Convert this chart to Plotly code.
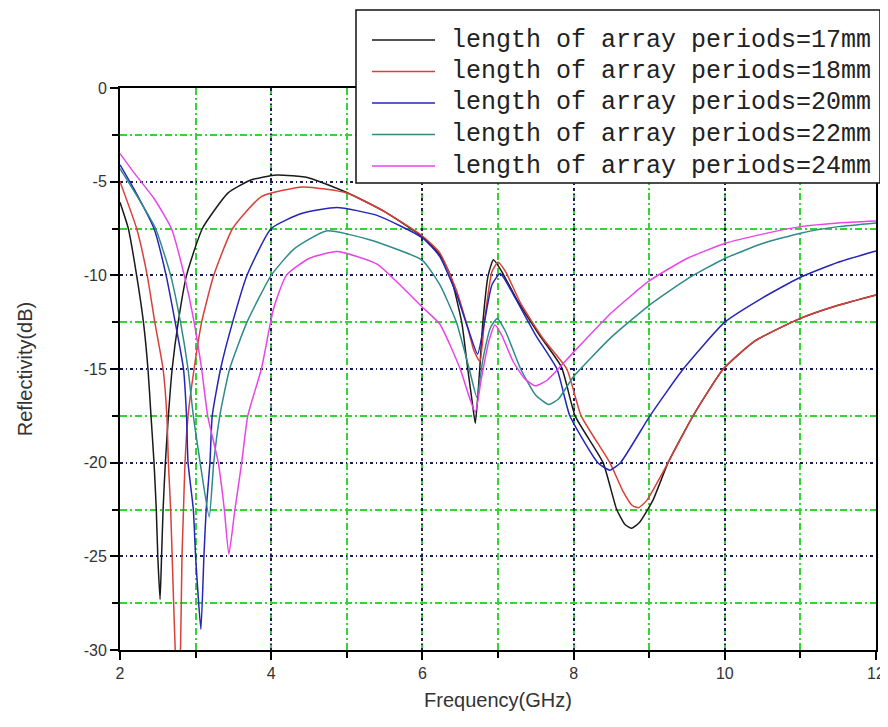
import plotly.graph_objects as go

# ---------------- data ----------------
series_names = [
    "length of array periods=17mm",
    "length of array periods=18mm",
    "length of array periods=20mm",
    "length of array periods=22mm",
    "length of array periods=24mm",
]

f_17 = [2.0, 2.11, 2.22, 2.31, 2.37, 2.41, 2.45, 2.48, 2.50, 2.53, 2.55, 2.57, 2.60, 2.64, 2.69, 2.77, 2.88,
        3.09, 3.43, 3.74, 4.07, 4.5, 5.0, 5.5, 6.0, 6.23, 6.37, 6.52, 6.60, 6.66, 6.70, 6.75, 6.80, 6.87, 6.94,
        7.05, 7.25, 7.55, 7.84, 8.02, 8.39, 8.57, 8.68, 8.77, 8.87, 9.05, 9.25, 9.58, 9.98, 10.4, 11.0, 11.5, 12.0]
r_17 = [-6.1, -7.5, -10.0, -12.5, -15.0, -17.5, -20.0, -22.5, -25.0, -27.3, -25.0, -22.5, -20.0, -17.5, -15.0, -12.5, -10.0,
        -7.5, -5.6, -4.9, -4.64, -4.8, -5.58, -6.6, -7.95, -8.9, -10.0, -12.5, -15.0, -16.8, -17.9, -15.5, -12.5, -10.0, -9.17,
        -9.8, -11.3, -13.2, -14.9, -17.5, -20.0, -22.5, -23.3, -23.5, -23.2, -22.0, -20.0, -17.5, -15.0, -13.5, -12.3, -11.6, -11.05]

f_18 = [2.0, 2.22, 2.36, 2.46, 2.57, 2.62, 2.64, 2.67, 2.69, 2.73, 2.765, 2.80, 2.82, 2.84, 2.86, 2.90, 2.98, 3.08,
        3.24, 3.49, 3.87, 4.42, 5.0, 5.5, 6.0, 6.23, 6.45, 6.60, 6.68, 6.76, 6.82, 6.92, 7.0, 7.1, 7.3, 7.6, 7.91, 8.1,
        8.48, 8.65, 8.78, 8.86, 8.97, 9.25, 9.58, 9.98, 10.4, 11.0, 11.5, 12.0]
r_18 = [-5.0, -7.5, -10.0, -12.5, -15.0, -17.5, -20.0, -22.5, -25.0, -30.0, -33.0, -30.0, -25.0, -22.5, -20.0, -17.5, -15.0, -12.5,
        -10.0, -7.5, -5.8, -5.28, -5.6, -6.6, -7.9, -8.8, -10.8, -12.8, -14.0, -14.6, -12.5, -9.8, -9.3, -9.8, -11.5, -13.4, -15.0, -17.5,
        -20.0, -21.5, -22.3, -22.4, -22.0, -20.0, -17.5, -15.0, -13.5, -12.3, -11.6, -11.05]

f_20 = [2.0, 2.2, 2.45, 2.61, 2.73, 2.84, 2.88, 2.90, 2.97, 3.00, 3.07, 3.11, 3.14, 3.19, 3.22, 3.33, 3.49, 3.68,
        4.0, 4.4, 4.87, 5.4, 6.0, 6.23, 6.45, 6.60, 6.73, 6.82, 6.92, 7.03, 7.2, 7.5, 7.78, 7.95, 8.32, 8.48, 8.62,
        9.01, 9.45, 10.0, 10.5, 11.0, 11.5, 12.0]
r_20 = [-4.1, -5.5, -7.5, -10.0, -12.5, -15.0, -17.5, -20.0, -22.5, -25.0, -28.9, -25.0, -22.5, -20.0, -17.5, -15.0, -12.5, -10.0,
        -7.5, -6.7, -6.38, -6.8, -8.0, -9.0, -11.0, -12.8, -14.2, -12.5, -10.5, -9.9, -11.0, -13.2, -15.0, -17.5, -20.0, -20.4, -20.0,
        -17.5, -15.0, -12.5, -11.2, -10.1, -9.3, -8.7]

f_22 = [2.0, 2.2, 2.47, 2.67, 2.80, 2.90, 2.97, 3.06, 3.18, 3.24, 3.32, 3.45, 3.68, 4.0, 4.3, 4.73, 5.3, 6.0, 6.23,
        6.45, 6.62, 6.72, 6.80, 6.90, 6.99, 7.1, 7.3, 7.5, 7.67, 7.8, 8.0, 8.5, 9.0, 9.5, 10.0, 10.5, 11.0, 11.5, 12.0]
r_22 = [-4.3, -5.6, -7.5, -10.0, -12.5, -15.0, -17.5, -20.0, -22.9, -20.0, -17.5, -15.0, -12.5, -10.0, -8.6, -7.63, -8.1, -9.2, -10.5,
        -12.5, -15.0, -16.5, -14.5, -12.8, -12.3, -13.0, -15.0, -16.4, -16.9, -16.6, -15.4, -13.3, -11.6, -10.2, -9.1, -8.3, -7.75, -7.4, -7.2]

f_24 = [2.0, 2.2, 2.45, 2.68, 2.85, 2.98, 3.08, 3.16, 3.30, 3.38, 3.44, 3.52, 3.61, 3.69, 3.87, 4.03, 4.2, 4.5, 4.87,
        5.4, 6.0, 6.23, 6.5, 6.62, 6.70, 6.78, 6.88, 6.96, 7.05, 7.2, 7.35, 7.49, 7.65, 8.0, 8.5, 9.0, 9.5, 10.0, 10.5, 11.0, 11.5, 12.0]
r_24 = [-3.5, -4.6, -5.9, -7.5, -10.0, -12.5, -15.0, -17.5, -20.0, -22.5, -24.9, -22.5, -20.0, -17.5, -15.0, -11.8, -10.0, -9.1, -8.73,
        -9.4, -11.7, -12.6, -15.0, -16.5, -17.3, -15.5, -13.5, -12.65, -13.2, -14.6, -15.5, -15.9, -15.6, -14.1, -12.0, -10.3, -9.1, -8.3, -7.8, -7.4, -7.2, -7.1]

series_x = [f_17, f_18, f_20, f_22, f_24]
series_y = [r_17, r_18, r_20, r_22, r_24]
series_colors = ["#1a1a1a", "#d9403a", "#2525b8", "#2f8a8a", "#e845e8"]

x_ticks = [2, 4, 6, 8, 10, 12]
x_tick_labels = ["2", "4", "6", "8", "10", "12"]
y_ticks = [0, -5, -10, -15, -20, -25, -30]
y_tick_labels = ["0", "-5", "-10", "-15", "-20", "-25", "-30"]

x_title = "Frequency(GHz)"
y_title = "Reflectivity(dB)"

# ---------------- figure ----------------
# the page body adds an 8px offset, so the figure is 8px smaller and all
# reference pixel positions are shifted by -8
OFF = 8
W, H = 888 - OFF, 727 - OFF
ml, mt = 120 - OFF, 88 - OFF
mr = W - (876 - OFF)
mb = H - (650 - OFF)
pw, ph = W - ml - mr, H - mt - mb


def px_x(px):  # reference picture x -> paper
    return (px - OFF - ml) / pw


def px_y(py):  # reference picture y -> paper
    return (H - mb - (py - OFF)) / ph


fig = go.Figure()
for name, xs, ys, col in zip(series_names, series_x, series_y, series_colors):
    fig.add_trace(go.Scatter(x=xs, y=ys, mode="lines", name=name, showlegend=False,
                             line=dict(color=col, width=1.5, shape="spline", smoothing=0.5)))

tick_font = dict(family="Liberation Sans, Arial, sans-serif", size=16, color="#333333")
title_font = dict(family="Liberation Sans, Arial, sans-serif", size=20, color="#333333")

fig.update_layout(
    width=W, height=H,
    margin=dict(l=ml, r=mr, t=mt, b=mb, autoexpand=False),
    paper_bgcolor="white", plot_bgcolor="white",
    showlegend=False,
    xaxis=dict(
        range=[2, 12], tickvals=x_ticks, ticktext=x_tick_labels,
        showline=True, linecolor="black", linewidth=2, mirror=True,
        ticks="outside", ticklen=8, tickwidth=2, tickcolor="black",
        tickfont=tick_font,
        showgrid=True, gridcolor="#1c1c55", gridwidth=1.5, griddash="3px,3px,1px,3px",
        zeroline=False,
        minor=dict(dtick=1, tick0=3, showgrid=True, gridcolor="#35d435", gridwidth=1.5,
                   griddash="7px,3px,2px,3px", ticks="outside", ticklen=6, tickwidth=1.5, tickcolor="black"),
        title=dict(text=x_title, font=title_font, standoff=12),
    ),
    yaxis=dict(
        range=[-30, 0], tickvals=y_ticks, ticktext=y_tick_labels,
        showline=True, linecolor="black", linewidth=2, mirror=True,
        ticks="outside", ticklen=8, tickwidth=2, tickcolor="black",
        tickfont=tick_font,
        showgrid=True, gridcolor="#1c1c55", gridwidth=1.5, griddash="3px,3px,1px,3px",
        zeroline=False,
        minor=dict(dtick=5, tick0=-2.5, showgrid=True, gridcolor="#35d435", gridwidth=1.5,
                   griddash="7px,3px,2px,3px", ticks="outside", ticklen=6, tickwidth=1.5, tickcolor="black"),
        title=dict(text=y_title, font=title_font, standoff=46),
    ),
)

# legend box in the top margin, overlapping the plot's upper right corner
fig.add_shape(type="rect", xref="paper", yref="paper", x0=px_x(356), x1=px_x(880),
              y0=px_y(183), y1=px_y(10), fillcolor="white", line=dict(color="#111111", width=1.5), layer="above")
row_y = [40, 71.5, 103, 134.5, 166]
for name, col, ry in zip(series_names, series_colors, row_y):
    fig.add_shape(type="line", xref="paper", yref="paper", x0=px_x(372), x1=px_x(435),
                  y0=px_y(ry), y1=px_y(ry), line=dict(color=col, width=1.5), layer="above")
    fig.add_annotation(xref="paper", yref="paper", x=px_x(449), y=px_y(ry), xanchor="left", yanchor="middle",
                       text=name, showarrow=False,
                       font=dict(family="Liberation Mono, Courier New, monospace", size=25, color="#222222"))

fig.write_html("out.html")
